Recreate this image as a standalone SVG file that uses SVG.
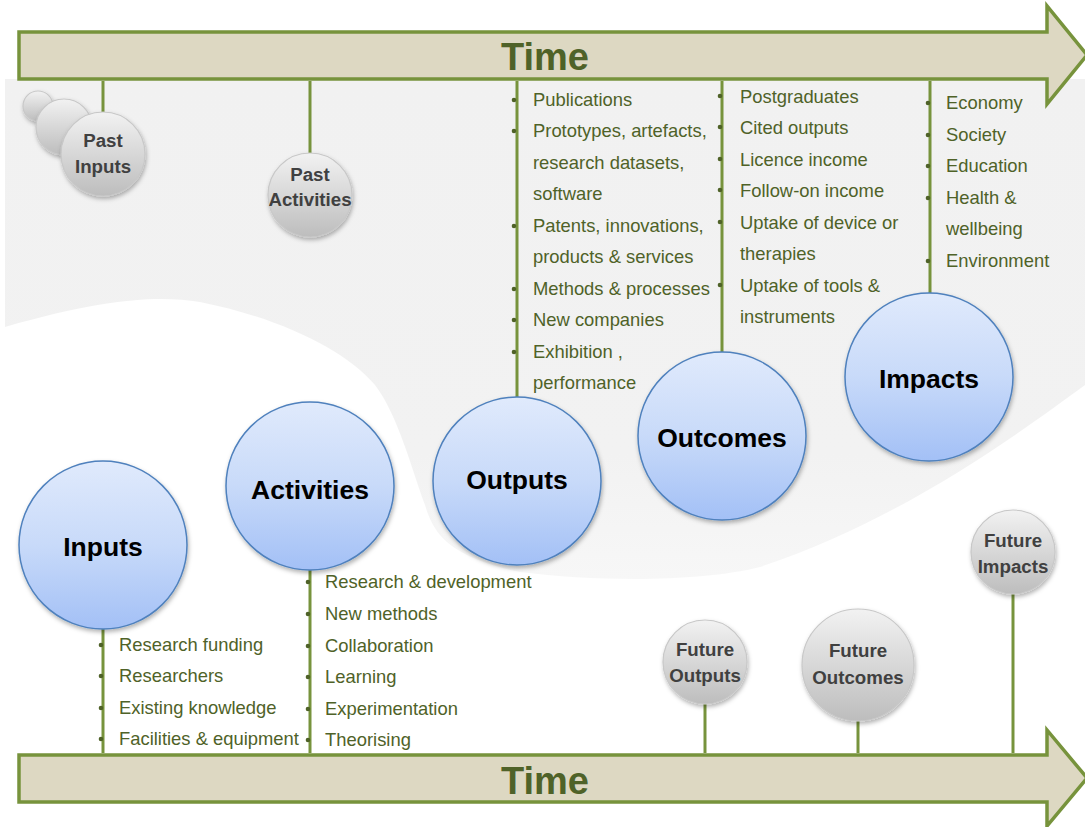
<svg xmlns="http://www.w3.org/2000/svg" width="1085" height="827" viewBox="0 0 1085 827">
<style>
.arrow{fill:#ddd8c2;stroke:#77933c;stroke-width:3.5}
.time{font-family:"Liberation Sans",Arial,sans-serif;font-weight:bold;font-size:38px;fill:#4f6228;text-anchor:middle}
.conn{stroke:#77933c;stroke-width:3;fill:none}
.item{font-family:"Liberation Sans",Arial,sans-serif;font-size:18.4px;fill:#4f6228}
.dot{fill:#4f6228}
.big{fill:url(#blue);stroke:#4f81bd;stroke-width:1.5;filter:url(#sh)}
.bigt{font-family:"Liberation Sans",Arial,sans-serif;font-weight:bold;font-size:26.5px;fill:#000;text-anchor:middle}
.grey{fill:url(#greyg);stroke:#c8c8c8;stroke-width:1.2;filter:url(#sh)}
.greyt{font-family:"Liberation Sans",Arial,sans-serif;font-weight:bold;font-size:18.7px;fill:#404040;text-anchor:middle}
</style>
<defs>
<linearGradient id="blue" x1="0" y1="0" x2="0" y2="1">
<stop offset="0" stop-color="#e0eafc"/>
<stop offset="0.5" stop-color="#c8daf9"/>
<stop offset="1" stop-color="#a3c0f6"/>
</linearGradient>
<linearGradient id="greyg" x1="0" y1="0" x2="0" y2="1">
<stop offset="0" stop-color="#f2f2f2"/>
<stop offset="1" stop-color="#bdbdbd"/>
</linearGradient>
<linearGradient id="bgg" x1="0" y1="0" x2="0" y2="1">
<stop offset="0" stop-color="#f1f1f1"/>
<stop offset="0.75" stop-color="#f2f2f2"/>
<stop offset="1" stop-color="#f7f7f7"/>
</linearGradient>
<filter id="sh" x="-20%" y="-20%" width="140%" height="140%">
<feDropShadow dx="1" dy="2.5" stdDeviation="2" flood-color="#000" flood-opacity="0.3"/>
</filter>
</defs>
<rect width="1085" height="827" fill="#fff"/>
<path id="background" d="M5,79 L1085,79 L1085,385 C1010,440 900,520 760,567 C700,582 600,582 520,572 C480,564 452,550 440,535 C432,525 428,515 425,505 C412,470 398,415 375,385 C345,350 280,318 200,302 C160,296 110,297 5,327 Z" fill="url(#bgg)"/>

<g id="time-top">
<path class="arrow" d="M19,32 L1047,32 L1047,6 L1087,55 L1047,104 L1047,79 L19,79 Z"/>
<text class="time" x="545" y="70">Time</text>
</g>
<g id="time-bottom">
<path class="arrow" d="M19,755 L1047,755 L1047,730 L1087,778 L1047,826 L1047,802 L19,802 Z"/>
<text class="time" x="545" y="794">Time</text>
</g>

<g id="connectors">
<line class="conn" x1="103" y1="81" x2="103" y2="112"/>
<line class="conn" x1="310" y1="81" x2="310" y2="153"/>
<line class="conn" x1="517" y1="81" x2="517" y2="397"/>
<line class="conn" x1="722" y1="81" x2="722" y2="352"/>
<line class="conn" x1="930" y1="81" x2="930" y2="293"/>
<line class="conn" x1="103" y1="629" x2="103" y2="753"/>
<line class="conn" x1="310" y1="570" x2="310" y2="753"/>
<line class="conn" x1="705" y1="704" x2="705" y2="753"/>
<line class="conn" x1="858" y1="721" x2="858" y2="753"/>
<line class="conn" x1="1013" y1="594" x2="1013" y2="753"/>
</g>

<g id="past-inputs">
<circle class="grey" cx="38" cy="106" r="15"/>
<circle class="grey" cx="64" cy="127" r="28"/>
<circle class="grey" cx="103" cy="154" r="42"/>
<text class="greyt" x="103" y="147">Past</text>
<text class="greyt" x="103" y="173">Inputs</text>
</g>
<g id="past-activities">
<circle class="grey" cx="310" cy="195" r="42"/>
<text class="greyt" x="310" y="181">Past</text>
<text class="greyt" x="310" y="206">Activities</text>
</g>

<g id="outputs-list">
<g class="dot"><circle cx="514" cy="100" r="2.3"/><circle cx="514" cy="131" r="2.3"/><circle cx="514" cy="226" r="2.3"/><circle cx="514" cy="289" r="2.3"/><circle cx="514" cy="320" r="2.3"/><circle cx="514" cy="352" r="2.3"/></g>
<text class="item" x="533" y="106">Publications</text>
<text class="item" x="533" y="137">Prototypes, artefacts,</text>
<text class="item" x="533" y="169">research datasets,</text>
<text class="item" x="533" y="200">software</text>
<text class="item" x="533" y="232">Patents, innovations,</text>
<text class="item" x="533" y="263">products &amp; services</text>
<text class="item" x="533" y="295">Methods &amp; processes</text>
<text class="item" x="533" y="326">New companies</text>
<text class="item" x="533" y="358">Exhibition ,</text>
<text class="item" x="533" y="389">performance</text>
</g>

<g id="outcomes-list">
<g class="dot"><circle cx="720" cy="96" r="2.3"/><circle cx="720" cy="127" r="2.3"/><circle cx="720" cy="159" r="2.3"/><circle cx="720" cy="190" r="2.3"/><circle cx="720" cy="222" r="2.3"/><circle cx="720" cy="285" r="2.3"/></g>
<text class="item" x="740" y="103">Postgraduates</text>
<text class="item" x="740" y="134">Cited outputs</text>
<text class="item" x="740" y="166">Licence income</text>
<text class="item" x="740" y="197">Follow-on income</text>
<text class="item" x="740" y="229">Uptake of device or</text>
<text class="item" x="740" y="260">therapies</text>
<text class="item" x="740" y="292">Uptake of tools &amp;</text>
<text class="item" x="740" y="323">instruments</text>
</g>

<g id="impacts-list">
<g class="dot"><circle cx="928" cy="103" r="2.3"/><circle cx="928" cy="135" r="2.3"/><circle cx="928" cy="166" r="2.3"/><circle cx="928" cy="198" r="2.3"/><circle cx="928" cy="261" r="2.3"/></g>
<text class="item" x="946" y="109">Economy</text>
<text class="item" x="946" y="141">Society</text>
<text class="item" x="946" y="172">Education</text>
<text class="item" x="946" y="204">Health &amp;</text>
<text class="item" x="946" y="235">wellbeing</text>
<text class="item" x="946" y="267">Environment</text>
</g>

<g id="inputs-list">
<g class="dot"><circle cx="101" cy="645" r="2.3"/><circle cx="101" cy="676" r="2.3"/><circle cx="101" cy="708" r="2.3"/><circle cx="101" cy="739" r="2.3"/></g>
<text class="item" x="119" y="651">Research funding</text>
<text class="item" x="119" y="682">Researchers</text>
<text class="item" x="119" y="714">Existing knowledge</text>
<text class="item" x="119" y="745">Facilities &amp; equipment</text>
</g>

<g id="activities-list">
<g class="dot"><circle cx="308" cy="582" r="2.3"/><circle cx="308" cy="614" r="2.3"/><circle cx="308" cy="646" r="2.3"/><circle cx="308" cy="677" r="2.3"/><circle cx="308" cy="709" r="2.3"/><circle cx="308" cy="740" r="2.3"/></g>
<text class="item" x="325" y="588">Research &amp; development</text>
<text class="item" x="325" y="620">New methods</text>
<text class="item" x="325" y="652">Collaboration</text>
<text class="item" x="325" y="683">Learning</text>
<text class="item" x="325" y="715">Experimentation</text>
<text class="item" x="325" y="746">Theorising</text>
</g>

<g id="inputs">
<circle class="big" cx="103" cy="545" r="84"/>
<text class="bigt" x="103" y="556">Inputs</text>
</g>
<g id="activities">
<circle class="big" cx="310" cy="486" r="84"/>
<text class="bigt" x="310" y="499">Activities</text>
</g>
<g id="outputs">
<circle class="big" cx="517" cy="481" r="84"/>
<text class="bigt" x="517" y="489">Outputs</text>
</g>
<g id="outcomes">
<circle class="big" cx="722" cy="436" r="84"/>
<text class="bigt" x="722" y="447">Outcomes</text>
</g>
<g id="impacts">
<circle class="big" cx="929" cy="377" r="84"/>
<text class="bigt" x="929" y="388">Impacts</text>
</g>

<g id="future-outputs">
<circle class="grey" cx="705" cy="662" r="42"/>
<text class="greyt" x="705" y="656">Future</text>
<text class="greyt" x="705" y="682">Outputs</text>
</g>
<g id="future-outcomes">
<circle class="grey" cx="858" cy="665" r="56"/>
<text class="greyt" x="858" y="657">Future</text>
<text class="greyt" x="858" y="684">Outcomes</text>
</g>
<g id="future-impacts">
<circle class="grey" cx="1013" cy="552" r="42"/>
<text class="greyt" x="1013" y="547">Future</text>
<text class="greyt" x="1013" y="573">Impacts</text>
</g>
</svg>
